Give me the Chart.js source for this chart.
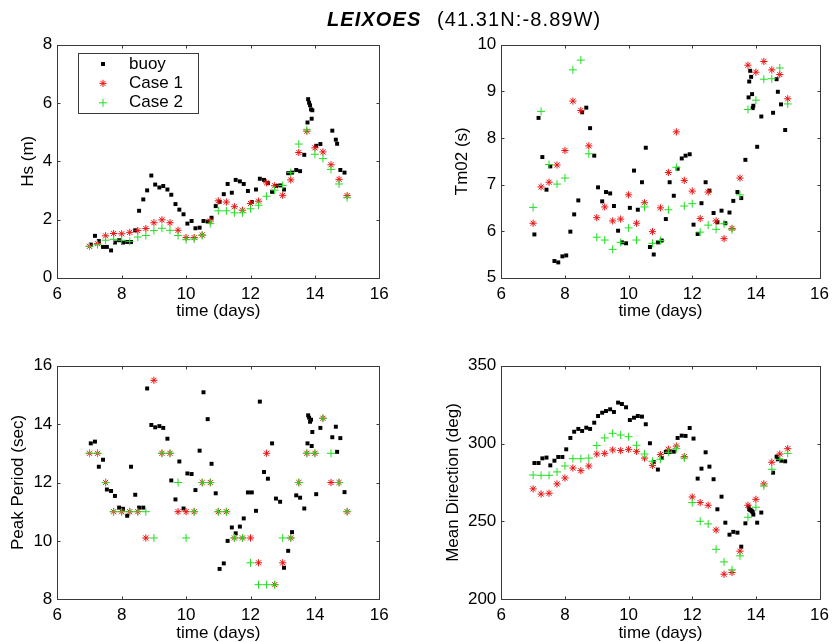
<!DOCTYPE html>
<html>
<head>
<meta charset="utf-8">
<title>LEIXOES</title>
<script src="https://cdn.jsdelivr.net/npm/chart.js@4.4.1/dist/chart.umd.min.js"></script>
<style>
  html, body { margin: 0; padding: 0; background: #fff; }
  #wrap { position: relative; width: 835px; height: 642px; overflow: hidden; }
  #wrap canvas { position: absolute; left: 0; top: 0; }
</style>
</head>
<body>
<div id="wrap">
  <canvas id="hs" width="835" height="642"></canvas>
  <canvas id="tm" width="835" height="642"></canvas>
  <canvas id="tp" width="835" height="642"></canvas>
  <canvas id="dir" width="835" height="642"></canvas>
</div>
<script>
// Valores
const siteName = 'LEIXOES';
const siteCoords = '(41.31N:-8.89W)';
const seriesNames = ['buoy', 'Case 1', 'Case 2'];

// tiempos (dias) del modelo, cada 6 horas
const modelDays = [7.0, 7.25, 7.5, 7.75, 8.0, 8.25, 8.5, 8.75, 9.0, 9.25, 9.5, 9.75, 10.0, 10.25, 10.5, 10.75,
  11.0, 11.25, 11.5, 11.75, 12.0, 12.25, 12.5, 12.75, 13.0, 13.25, 13.5, 13.75, 14.0, 14.25, 14.5, 14.75, 15.0];

// tiempos (dias) de la boya
const buoyDays = [7.04, 7.17, 7.29, 7.42, 7.54, 7.67, 7.79, 7.92, 8.04, 8.17, 8.29, 8.42, 8.54, 8.67, 8.79, 8.92,
  9.04, 9.17, 9.29, 9.42, 9.54, 9.67, 9.79, 9.92, 10.04, 10.17, 10.29, 10.42, 10.54, 10.67, 10.79, 10.92,
  11.04, 11.17, 11.29, 11.42, 11.54, 11.67, 11.79, 11.92, 12.04, 12.17, 12.29, 12.42, 12.54, 12.67, 12.79, 12.92,
  13.04, 13.17, 13.29, 13.42, 13.54, 13.67, 13.77, 13.79, 13.82, 13.85, 13.88, 13.90, 13.92, 14.04, 14.17,
  14.54, 14.65, 14.69, 14.79, 14.92];

// Hs (m)
const hsBuoy = [1.14, 1.44, 1.26, 1.06, 1.06, 0.94, 1.21, 1.29, 1.21, 1.23, 1.23, 1.63,
  2.30, 2.69, 3.00, 3.51, 3.20, 3.10, 3.15, 3.03, 2.85, 2.53, 2.34, 2.18,
  1.86, 1.95, 1.70, 1.72, 1.95, 1.93, 2.06, 2.46, 2.61, 2.87, 3.22, 2.92,
  3.36, 3.31, 3.22, 2.98, 2.60, 3.03, 3.40, 3.36, 3.25, 2.95, 3.15, 3.17,
  3.03, 3.59, 3.61, 3.70, 3.66, 4.22, 5.33, 6.13, 6.01, 5.92, 5.78, 5.46, 5.75,
  4.53, 4.59, 5.05, 4.74, 4.60, 3.70, 3.61];
const hsCase1 = [1.08, 1.17, 1.44, 1.52, 1.51, 1.56, 1.62, 1.69, 1.89, 1.99, 1.89, 1.63, 1.38, 1.38, 1.47, 1.95,
  2.64, 2.60, 2.44, 2.32, 2.55, 2.63, 3.26, 3.16, 2.83, 3.36, 4.30, 5.03, 4.46, 4.32, 3.88, 3.38, 2.82];
const hsCase2 = [1.08, 1.14, 1.29, 1.32, 1.29, 1.25, 1.40, 1.45, 1.62, 1.70, 1.63, 1.45, 1.31, 1.33, 1.45, 1.86,
  2.30, 2.30, 2.23, 2.23, 2.37, 2.49, 2.80, 3.01, 3.17, 3.61, 4.59, 5.08, 4.24, 4.09, 3.72, 3.22, 2.75];

// Tm02 (s)
const tmBuoy = [5.93, 8.43, 7.59, 6.89, 7.39, 5.36, 5.33, 5.46, 5.48, 5.99, 6.36, 6.66,
  8.55, 8.65, 8.21, 7.62, 6.94, 6.64, 6.84, 6.81, 6.54, 6.01, 5.76, 5.74,
  6.50, 7.30, 6.46, 7.05, 7.79, 5.66, 5.50, 5.76, 5.80, 6.26, 7.05, 6.76,
  7.34, 7.56, 7.62, 7.65, 6.14, 5.94, 6.60, 7.05, 6.87, 6.39, 6.19, 6.44,
  6.17, 6.40, 6.65, 6.84, 6.71, 7.53, 8.87, 9.21, 9.44, 9.31, 8.94, 8.64, 8.69,
  7.81, 8.46, 8.54, 9.26, 8.99, 8.72, 8.17];
const tmCase1 = [6.17, 6.95, 7.05, 7.42, 7.73, 8.79, 8.59, 7.83, 6.29, 6.52, 6.22, 6.26, 6.78, 6.17, 6.61, 5.99,
  6.50, 7.26, 8.13, 7.09, 6.86, 6.27, 6.84, 6.22, 5.84, 6.06, 7.14, 9.56, 9.41, 9.64, 9.46, 9.36, 8.84];
const tmCase2 = [6.51, 8.57, 7.43, 7.01, 7.14, 9.46, 9.67, 7.66, 5.87, 5.81, 5.61, 5.76, 6.07, 5.81, 6.52, 5.74,
  5.80, 6.46, 7.37, 6.54, 6.59, 5.98, 6.13, 6.04, 6.16, 6.03, 6.78, 8.61, 8.81, 9.26, 9.27, 9.50, 8.73];

// Peak Period (sec)
const tpBuoy = [13.34, 13.40, 12.54, 12.78, 11.76, 11.71, 11.54, 11.14, 11.10, 10.86, 12.54, 11.58,
  11.14, 11.14, 15.22, 13.97, 13.89, 13.93, 13.87, 13.50, 12.07, 11.42, 12.72, 11.11,
  12.31, 12.29, 11.74, 13.09, 15.09, 14.17, 12.64, 11.63, 9.04, 9.23, 10.00, 10.46,
  10.26, 10.49, 10.77, 11.66, 11.66, 11.03, 14.77, 12.36, 12.13, 13.34, 11.45, 11.34,
  9.08, 9.66, 10.30, 11.56, 11.48, 11.11, 13.34, 14.30, 14.22, 14.08, 14.15, 13.25, 13.73,
  11.60, 13.87, 13.55, 13.91, 13.05, 13.52, 11.67];
const tpCase1 = [13.0, 13.0, 12.0, 11.0, 11.0, 11.0, 11.0, 10.1, 15.5, 13.0, 13.0, 11.0, 11.0, 11.0, 12.0, 12.0,
  11.0, 11.0, 10.1, 10.1, 10.1, 9.25, 13.0, 8.5, 9.25, 10.1, 12.0, 13.0, 13.0, 14.2, 12.0, 12.0, 11.0];
const tpCase2 = [13.0, 13.0, 12.0, 11.0, 11.0, 11.0, 11.0, 11.0, 10.1, 13.0, 13.0, 12.0, 10.1, 11.0, 12.0, 12.0,
  11.0, 11.0, 10.1, 10.1, 9.25, 8.5, 8.5, 8.5, 10.1, 10.1, 12.0, 13.0, 13.0, 14.2, 13.0, 12.0, 11.0];

// Mean Direction (deg)
const dirBuoy = [287.5, 287.5, 290.5, 291.0, 286.0, 289.0, 291.4, 291.4, 296.3, 303.6, 307.6, 309.4,
  308.1, 310.2, 309.4, 313.4, 317.7, 319.8, 320.9, 322.0, 320.3, 326.3, 325.4, 323.3,
  315.1, 316.6, 317.7, 317.3, 312.4, 300.2, 288.2, 283.3, 290.7, 294.6, 294.6, 294.8,
  303.6, 305.1, 304.9, 310.0, 303.2, 277.5, 283.9, 294.4, 285.2, 277.1, 257.8, 265.9,
  249.2, 241.5, 243.3, 242.8, 233.8, 248.8, 259.5, 257.8, 257.4, 257.0, 256.5, 255.9, 254.4,
  249.2, 255.7, 281.3, 291.6, 289.9, 289.0, 288.6];
const dirCase1 = [270.9, 267.6, 268.1, 274.1, 277.9, 284.3, 282.6, 285.6, 293.3, 293.7, 295.9, 295.5, 296.3, 295.0,
  290.7, 286.0, 292.9, 296.3, 298.4, 291.6, 265.7, 262.1, 260.4, 244.5, 216.1, 217.2, 230.9, 260.4, 264.2,
  274.1, 288.0, 293.3, 296.7];
const dirCase2 = [279.8, 279.6, 279.6, 281.8, 285.6, 290.3, 290.3, 290.7, 298.7, 303.6, 306.6, 305.5, 304.4, 298.9,
  293.3, 288.6, 289.9, 294.4, 296.7, 290.7, 262.1, 250.1, 248.4, 232.1, 224.0, 218.9, 227.9, 252.7, 259.1,
  272.8, 283.5, 289.9, 293.7];

// ticks
const dayTicks = [6, 8, 10, 12, 14, 16];
const hsTicks = [0, 2, 4, 6, 8];
const tmTicks = [5, 6, 7, 8, 9, 10];
const tpTicks = [8, 10, 12, 14, 16];
const dirTicks = [200, 250, 300, 350];

const FONT = "'Liberation Sans', Arial, Helvetica, sans-serif";
const FRAME = '#3a3a3a';
const X_AXIS_H = 42.5;
const PAGE_W = 835, PAGE_H = 642;

Chart.defaults.font.family = FONT;
Chart.defaults.font.size = 17;
Chart.defaults.color = '#000';

// marco tipo matlab con marcas hacia dentro
const boxPlugin = {
  id: 'matlabBox',
  afterDraw(chart) {
    const {ctx, chartArea: a, scales} = chart;
    const L = Math.round(a.left) + 0.5, R = Math.round(a.right) + 0.5;
    const T = Math.round(a.top) + 0.5, B = Math.round(a.bottom) + 0.5;
    ctx.save();
    ctx.strokeStyle = FRAME;
    ctx.lineWidth = 1;
    ctx.beginPath();
    scales.x.ticks.forEach(t => {
      const px = Math.round(scales.x.getPixelForValue(t.value)) + 0.5;
      ctx.moveTo(px, B); ctx.lineTo(px, B - 3);
      ctx.moveTo(px, T); ctx.lineTo(px, T + 3);
    });
    scales.y.ticks.forEach(t => {
      const py = Math.round(scales.y.getPixelForValue(t.value)) + 0.5;
      ctx.moveTo(L, py); ctx.lineTo(L + 3, py);
      ctx.moveTo(R, py); ctx.lineTo(R - 3, py);
    });
    ctx.stroke();
    ctx.strokeRect(L, T, R - L, B - T);
    ctx.restore();
  }
};

const titlePlugin = {
  id: 'pageTitle',
  afterDraw(chart) {
    const ctx = chart.ctx;
    ctx.save();
    ctx.fillStyle = '#000';
    ctx.textBaseline = 'middle';
    ctx.textAlign = 'left';
    ctx.letterSpacing = '1.1px';
    ctx.font = 'italic bold 20px ' + FONT;
    ctx.fillText(siteName, 327, 20);
    ctx.font = '20px ' + FONT;
    ctx.fillText(siteCoords, 437, 20);
    ctx.restore();
  }
};

const legendPlugin = {
  id: 'boxLegend',
  afterDraw(chart) {
    const ctx = chart.ctx;
    ctx.save();
    ctx.fillStyle = '#fff';
    ctx.fillRect(78, 53, 120, 60);
    ctx.strokeStyle = FRAME;
    ctx.lineWidth = 1;
    ctx.strokeRect(78.5, 53.5, 120, 60);
    ctx.font = '17px ' + FONT;
    ctx.textBaseline = 'middle';
    ctx.textAlign = 'left';
    chart.data.datasets.forEach((ds, i) => {
      const y = 64 + i * 19.4;
      ctx.fillStyle = ds.backgroundColor;
      ctx.strokeStyle = ds.borderColor;
      ctx.lineWidth = ds.borderWidth;
      Chart.helpers.drawPoint(ctx, {pointStyle: ds.pointStyle, radius: ds.pointRadius, borderWidth: ds.borderWidth, rotation: 0}, 103, y);
      ctx.fillStyle = '#000';
      ctx.fillText(ds.label, 129, y);
    });
    ctx.restore();
  }
};

const styles = [
  {pointStyle: 'rect', pointRadius: 2.8, backgroundColor: '#000', borderColor: '#000', borderWidth: 0, order: 3},
  {pointStyle: 'star', pointRadius: 3.6, backgroundColor: '#ee1111', borderColor: '#ee1111', borderWidth: 1, order: 2},
  {pointStyle: 'cross', pointRadius: 4, backgroundColor: '#22dd22', borderColor: '#22dd22', borderWidth: 1, order: 1},
];

function toPoints(xs, ys) {
  return ys.map((v, i) => ({x: xs[i], y: v}));
}

function makePanel(id, box, yLabel, yTicks, buoy, case1, case2, extra) {
  const sets = [toPoints(buoyDays, buoy), toPoints(modelDays, case1), toPoints(modelDays, case2)];
  return new Chart(document.getElementById(id), {
    type: 'scatter',
    data: {
      datasets: sets.map((pts, i) => Object.assign({
        label: seriesNames[i],
        data: pts,
        pointHoverRadius: styles[i].pointRadius,
        clip: false,
      }, styles[i])),
    },
    options: {
      responsive: false,
      animation: false,
      events: [],
      layout: {
        padding: {
          left: box.yLeft,
          top: box.top,
          right: PAGE_W - box.right,
          bottom: PAGE_H - box.bottom - X_AXIS_H,
        },
      },
      plugins: {
        legend: {display: false},
        tooltip: {enabled: false},
      },
      scales: {
        x: {
          type: 'linear',
          min: dayTicks[0],
          max: dayTicks[dayTicks.length - 1],
          afterBuildTicks: s => { s.ticks = dayTicks.map(v => ({value: v})); },
          afterFit: s => { s.height = X_AXIS_H; },
          grid: {display: false, drawTicks: false},
          border: {display: false},
          ticks: {padding: 6, maxRotation: 0, autoSkip: false, color: '#000'},
          title: {display: true, text: 'time (days)', color: '#000', padding: 0, font: {size: 17, lineHeight: 1}},
        },
        y: {
          type: 'linear',
          min: yTicks[0],
          max: yTicks[yTicks.length - 1],
          afterBuildTicks: s => { s.ticks = yTicks.map(v => ({value: v})); },
          afterFit: s => { s.width = box.left - box.yLeft; },
          grid: {display: false, drawTicks: false},
          border: {display: false},
          ticks: {padding: 5, color: '#000'},
          title: {display: true, text: yLabel, color: '#000', padding: 0, font: {size: 17, lineHeight: 1}},
        },
      },
    },
    plugins: [boxPlugin].concat(extra || []),
  });
}

makePanel('hs', {left: 57.3, top: 44.7, right: 379.3, bottom: 277.8, yLeft: 19.8},
  'Hs (m)', hsTicks, hsBuoy, hsCase1, hsCase2, [legendPlugin, titlePlugin]);
makePanel('tm', {left: 501.3, top: 44.7, right: 823.3, bottom: 277.8, yLeft: 453.5},
  'Tm02 (s)', tmTicks, tmBuoy, tmCase1, tmCase2);
makePanel('tp', {left: 57.3, top: 365.7, right: 379.3, bottom: 599.3, yLeft: 9.8},
  'Peak Period (sec)', tpTicks, tpBuoy, tpCase1, tpCase2);
makePanel('dir', {left: 501.3, top: 365.7, right: 823.3, bottom: 599.3, yLeft: 444.8},
  'Mean Direction (deg)', dirTicks, dirBuoy, dirCase1, dirCase2);
</script>
</body>
</html>
